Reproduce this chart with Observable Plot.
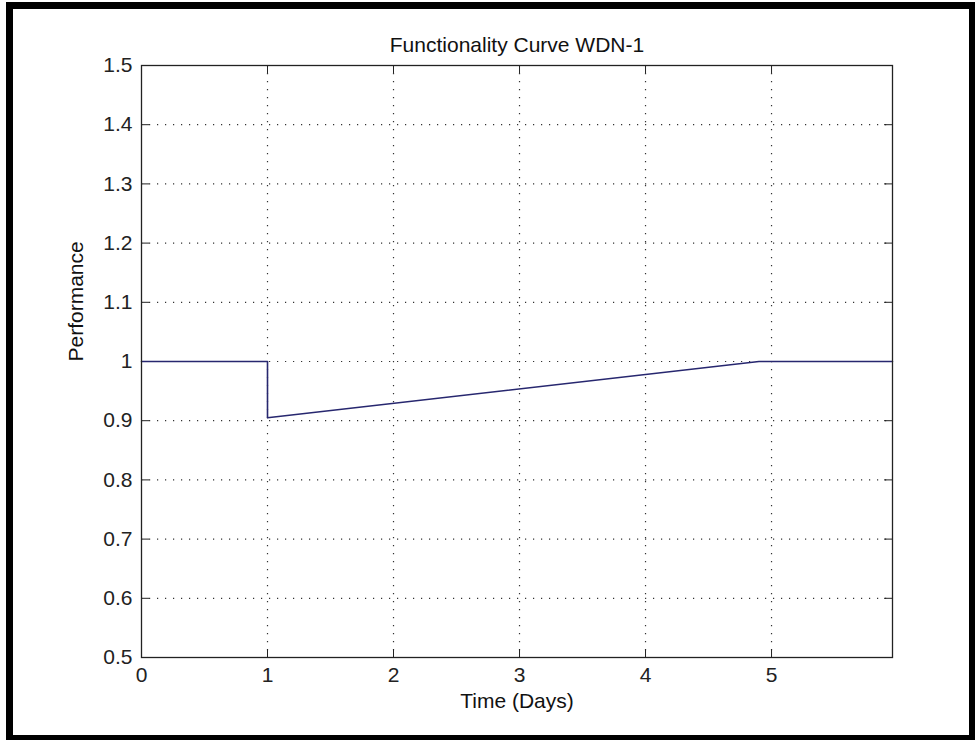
<!DOCTYPE html>
<html>
<head>
<meta charset="utf-8">
<script src="https://cdn.jsdelivr.net/npm/d3@7"></script>
<script src="https://cdn.jsdelivr.net/npm/@observablehq/plot@0.6"></script>
<style>
  html, body { margin: 0; padding: 0; background: white; }
  #wrap { position: relative; width: 977px; height: 740px; overflow: hidden; background: white; }
  #wrap svg { position: absolute; left: 0; top: 0; }
  #border { position: absolute; left: 6px; top: 2px; right: 2px; bottom: 0px;
            border-style: solid; border-color: #000; border-width: 7px 6px 5px 7px;
            box-sizing: border-box; pointer-events: none; }
</style>
</head>
<body>
<div id="wrap"><div id="border"></div></div>
<script>
// ---- data ----
const title = "Functionality Curve WDN-1";
const xLabel = "Time (Days)";
const yLabel = "Performance";
const timeDays = [0, 1, 1, 4.9, 5.96];
const performance = [1.0, 1.0, 0.905, 1.0, 1.0];
const xDomain = [0, 5.96];
const yDomain = [0.5, 1.5];
const xTicks = [0, 1, 2, 3, 4, 5];
const xTickLabels = ["0", "1", "2", "3", "4", "5"];
const yTicks = [0.5, 0.6, 0.7, 0.8, 0.9, 1.0, 1.1, 1.2, 1.3, 1.4, 1.5];
const yTickLabels = ["0.5", "0.6", "0.7", "0.8", "0.9", "1", "1.1", "1.2", "1.3", "1.4", "1.5"];

const series = timeDays.map((t, i) => ({t, p: performance[i]}));

const W = 977, H = 740;
const mL = 141, mR = 85, mT = 65, mB = 83;
const plotW = W - mL - mR, plotH = H - mT - mB;
const tickLen = 8;
const font = "'Liberation Sans', Arial, Helvetica, sans-serif";
const axisColor = "#222";
const gridX = xTicks.filter(d => d > xDomain[0] && d < xDomain[1]);
const gridY = yTicks.filter(d => d > yDomain[0] && d < yDomain[1]);

const chart = Plot.plot({
  width: W, height: H,
  marginLeft: mL, marginRight: mR, marginTop: mT, marginBottom: mB,
  style: {fontFamily: font, fontSize: "21px", background: "white", color: axisColor},
  x: {domain: xDomain},
  y: {domain: yDomain},
  marks: [
    // dotted grid
    Plot.ruleX(gridX, {stroke: "#333", strokeWidth: 1.2, strokeDasharray: "1.2,6.8"}),
    Plot.ruleY(gridY, {stroke: "#333", strokeWidth: 1.2, strokeDasharray: "1.2,6.8"}),
    // inward ticks (bottom, top, left, right)
    Plot.ruleX(xTicks, {stroke: axisColor, insetTop: plotH - tickLen}),
    Plot.ruleX(xTicks, {stroke: axisColor, insetBottom: plotH - tickLen}),
    Plot.ruleY(yTicks, {stroke: axisColor, insetRight: plotW - tickLen}),
    Plot.ruleY(yTicks, {stroke: axisColor, insetLeft: plotW - tickLen}),
    // tick labels
    Plot.axisX({ticks: xTicks, tickFormat: d => xTickLabels[xTicks.indexOf(d)], tickSize: 0, tickPadding: 10, label: null, fontSize: 21}),
    Plot.axisY({ticks: yTicks, tickFormat: d => yTickLabels[yTicks.findIndex(v => Math.abs(v - d) < 1e-9)], tickSize: 0, tickPadding: 9, label: null, fontSize: 21}),
    // data line
    Plot.line(series, {x: "t", y: "p", stroke: "#27276f", strokeWidth: 1.6}),
    // box
    Plot.frame({stroke: axisColor, strokeWidth: 1.3}),
    // labels
    Plot.text([title], {text: d => d, frameAnchor: "top", dy: -28, fontSize: 21, fill: "#111"}),
    Plot.text([xLabel], {text: d => d, frameAnchor: "bottom", dy: 50, fontSize: 21, fill: "#111"}),
    Plot.text([yLabel], {text: d => d, frameAnchor: "left", dx: -65, rotate: -90, fontSize: 21, fill: "#111"})
  ]
});
document.getElementById("wrap").insertBefore(chart, document.getElementById("border"));
</script>
</body>
</html>
